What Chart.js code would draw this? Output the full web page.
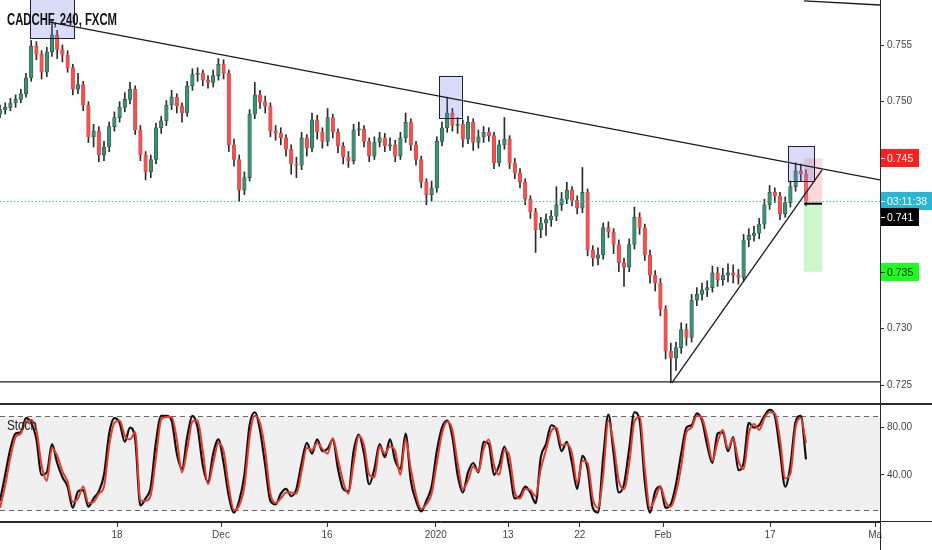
<!DOCTYPE html>
<html><head><meta charset="utf-8">
<script src="https://cdn.jsdelivr.net/npm/chart.js@4.4.1/dist/chart.umd.min.js"></script>
<style>
html,body{margin:0;padding:0;background:#fff;width:932px;height:550px;overflow:hidden;}
#wrap{position:relative;width:932px;height:550px;}
canvas{position:absolute;left:0;}
#main{top:0;}
#stoch{top:404px;}
.txt{position:absolute;white-space:nowrap;transform-origin:0 0;color:#131313;}
#ttl{left:7px;top:12px;font:bold 16px "Liberation Sans",Arial,sans-serif;line-height:16px;}
#stl{left:7px;top:418px;font:14px "Liberation Sans",Arial,sans-serif;line-height:14px;color:#222;}
.ln{position:absolute;background:#2a2a2a;}
</style></head>
<body><div id="wrap">
<canvas id="main" width="932" height="404"></canvas>
<canvas id="stoch" width="932" height="146"></canvas>
<div class="ln" style="left:0;top:403px;width:932px;height:2px;"></div>
<div class="ln" style="left:0;top:521px;width:932px;height:1px;"></div>
<div class="ln" style="left:880px;top:0;width:1px;height:550px;"></div>
<div id="ttl" class="txt">CADCHF, 240, FXCM</div>
<div id="stl" class="txt">Stoch</div>
</div>
<script>
// ---- data (12h candles, index = half trading day) ----
const OPEN0 = 0.7489;
const CLOSE = [
0.7493,0.7495,0.7499,0.7502,0.7507,0.7521,0.7549,0.7542,0.7526,0.7544,
0.7559,0.7546,0.7541,0.7530,0.7511,0.7515,0.7497,0.7469,0.7474,0.7453,
0.7460,0.7478,0.7486,0.7495,0.7502,0.7511,0.7475,0.7453,0.7438,0.7449,
0.7477,0.7483,0.7497,0.7504,0.7496,0.7490,0.7514,0.7524,0.7525,0.7519,
0.7517,0.7523,0.7533,0.7525,0.7462,0.7449,0.7422,0.7433,0.7489,0.7506,
0.7500,0.7496,0.7474,0.7472,0.7468,0.7458,0.7445,0.7444,0.7468,0.7459,
0.7484,0.7473,0.7465,0.7486,0.7473,0.7461,0.7451,0.7448,0.7475,0.7476,
0.7465,0.7452,0.7464,0.7468,0.7461,0.7462,0.7452,0.7468,0.7482,0.7462,
0.7449,0.7429,0.7418,0.7424,0.7465,0.7477,0.7490,0.7479,0.7480,0.7467,
0.7482,0.7464,0.7469,0.7473,0.7470,0.7446,0.7462,0.7467,0.7446,0.7437,
0.7429,0.7414,0.7403,0.7387,0.7393,0.7396,0.7399,0.7409,0.7414,0.7422,
0.7413,0.7406,0.7420,0.7369,0.7362,0.7365,0.7389,0.7385,0.7374,0.7358,
0.7354,0.7374,0.7398,0.7389,0.7365,0.7347,0.7340,0.7317,0.7280,0.7274,
0.7283,0.7299,0.7292,0.7325,0.7330,0.7334,0.7336,0.7349,0.7343,0.7347,
0.7349,0.7347,0.7345,0.7378,0.7382,0.7384,0.7392,0.7409,0.7420,0.7417,
0.7401,0.7411,0.7425,0.7439,0.7436,0.7412];
const HIGH = [
.7497,.7499,.7503,.7506,.7511,.7525,.7554,.7553,.7545,.7548,
.7571,.7563,.7550,.7545,.7533,.7525,.7518,.7500,.7480,.7478,
.7465,.7482,.7491,.7500,.7508,.7517,.7514,.7479,.7456,.7453,
.7481,.7487,.7501,.7510,.7507,.7499,.7518,.7529,.7530,.7528,
.7523,.7528,.7538,.7537,.7528,.7467,.7453,.7438,.7493,.7517,
.7510,.7505,.7499,.7479,.7477,.7471,.7462,.7451,.7473,.7471,
.7490,.7488,.7477,.7494,.7489,.7476,.7464,.7456,.7480,.7482,
.7479,.7468,.7469,.7473,.7472,.7468,.7466,.7473,.7490,.7485,
.7465,.7452,.7432,.7430,.7469,.7482,.7504,.7494,.7486,.7484,
.7487,.7485,.7475,.7478,.7477,.7473,.7466,.7486,.7470,.7450,
.7441,.7432,.7417,.7406,.7398,.7401,.7404,.7425,.7420,.7429,
.7425,.7417,.7442,.7423,.7373,.7371,.7393,.7394,.7388,.7378,
.7362,.7379,.7407,.7402,.7392,.7369,.7351,.7344,.7320,.7287,
.7288,.7305,.7304,.7330,.7336,.7340,.7342,.7355,.7354,.7353,
.7357,.7356,.7352,.7383,.7388,.7390,.7397,.7414,.7426,.7424,
.7420,.7416,.7430,.7446,.7445,.7440];
const LOW = [
.7486,.7489,.7492,.7495,.7499,.7504,.7518,.7537,.7520,.7522,
.7540,.7538,.7535,.7526,.7506,.7507,.7492,.7464,.7460,.7447,
.7448,.7456,.7474,.7482,.7491,.7498,.7471,.7448,.7431,.7433,
.7445,.7472,.7479,.7493,.7490,.7482,.7487,.7510,.7518,.7514,
.7512,.7513,.7519,.7520,.7456,.7443,.7412,.7418,.7430,.7485,
.7494,.7490,.7469,.7466,.7462,.7452,.7436,.7433,.7440,.7452,
.7456,.7467,.7459,.7461,.7468,.7455,.7445,.7442,.7445,.7470,
.7460,.7447,.7449,.7460,.7456,.7457,.7447,.7449,.7464,.7457,
.7444,.7424,.7409,.7412,.7420,.7461,.7473,.7474,.7472,.7460,
.7463,.7457,.7459,.7464,.7465,.7441,.7443,.7458,.7441,.7432,
.7424,.7409,.7397,.7367,.7380,.7382,.7390,.7395,.7404,.7410,
.7408,.7401,.7402,.7364,.7355,.7356,.7361,.7380,.7366,.7350,
.7337,.7350,.7370,.7383,.7360,.7340,.7333,.7311,.7273,.7252,
.7263,.7278,.7285,.7288,.7320,.7325,.7328,.7332,.7337,.7338,
.7341,.7340,.7339,.7342,.7372,.7377,.7379,.7388,.7405,.7411,
.7396,.7398,.7407,.7421,.7430,.7408];
const STOCH_D = [12,31,55,72,75,85,86,78,48,35,
63,56,43,34,17,20,30,16,17,24,
30,65,84,86,73,70,76,18,18,23,
55,87,89,89,70,42,62,85,86,60,
32,50,67,60,30,10,14,30,72,90,
84,60,24,16,20,25,25,24,43,63,
61,67,62,58,71,53,34,24,50,73,
65,40,38,64,58,64,60,40,70,45,
23,11,15,24,50,75,85,78,50,28,
35,47,43,62,70,48,40,61,55,25,
20,28,27,22,45,61,77,80,65,66,
58,33,52,50,20,12,40,86,66,35,
28,50,85,89,45,12,20,30,17,13,
25,47,76,80,90,88,72,52,68,78,
62,71,52,45,75,83,78,88,93,92,
70,37,41,80,88,67];
const STOCH_K = [18,40,62,75,76,88,84,70,40,42,
66,50,38,30,12,26,27,13,20,26,
40,75,88,84,68,80,70,14,20,30,
68,90,90,86,58,45,72,90,80,48,
34,58,70,50,22,8,18,40,82,93,
78,48,18,15,24,28,22,28,50,67,
58,70,60,62,70,45,28,26,60,74,
58,32,45,66,55,70,52,45,75,35,
18,9,18,30,60,80,86,72,40,25,
42,50,42,68,66,40,48,64,45,20,
22,30,25,16,55,66,82,78,60,68,
50,28,56,45,12,8,55,91,58,25,
32,62,93,86,34,8,26,30,12,15,
32,58,80,82,92,86,65,50,75,76,
60,72,44,50,84,80,82,90,95,90,
60,30,48,85,90,53];
const X_TICK_POS = [22.5, 42.5, 62.9, 83.8, 97.7, 111.5, 127.5, 148.1, 168.3];
const X_TICK_LABELS = ['18','Dec','16','2020','13','22','Feb','17','Ma'];
const Y_TICKS = [0.725,0.730,0.735,0.740,0.745,0.750,0.755];
const STOCH_TICKS = [40, 80];
const STOCH_BANDS = [90, 10];
const X_MIN = 0, X_MAX = 169.23;
const Y_MIN = 0.72333, Y_MAX = 0.75897;
// drawings (time index, price)
const TREND_LINES = [[9.6,0.75701,169.23,0.74310],[154.6,0.75890,169.23,0.75853],[129.2,0.72519,158.1,0.74398]];
const H_LINE = 0.72528;
const BOXES = [[5.77,14.23,0.7600,0.75562],[84.4,88.8,0.75229,0.74859],[151.6,156.6,0.74609,0.74303]];
const POSITION = {x0:154.6, x1:158.1, stop:0.745, entry:0.741, target:0.735};
const LAST_PRICE = 0.74124;
const TAGS = [
  {price:0.745, shift:0, text:'0.745', bg:'#ff1f1f', fg:'#ffffff', w:38},
  {price:LAST_PRICE, shift:0, text:'03:11:38', bg:'#27b5d1', fg:'#ffffff', w:52},
  {price:0.741, shift:13, text:'0.741', bg:'#000000', fg:'#ffffff', w:38},
  {price:0.735, shift:0, text:'0.735', bg:'#1cff1c', fg:'#1a1a1a', w:38}
];

const UP_FILL='#3f8f72', UP_LINE='#22594a', DN_FILL='#ef5350', DN_LINE='#e0474a';
const OPEN = CLOSE.map((c,i)=> i===0 ? OPEN0 : CLOSE[i-1]);
const isUp = CLOSE.map((c,i)=> c >= OPEN[i]);
const FONT = {family:'"Liberation Sans", Arial, sans-serif', size:10};

const drawings = {
  id:'drawings',
  afterDatasetsDraw(chart){
    const {ctx, chartArea:a, scales:{x,y}} = chart;
    const X=v=>x.getPixelForValue(v), Y=v=>y.getPixelForValue(v);
    ctx.save();
    ctx.beginPath(); ctx.rect(a.left,a.top,a.right-a.left,a.bottom-a.top); ctx.clip();
    // last price dotted line
    ctx.strokeStyle='#3cc3d8'; ctx.lineWidth=1; ctx.setLineDash([1.5,2]);
    ctx.beginPath(); ctx.moveTo(a.left,Math.round(Y(LAST_PRICE))+0.5); ctx.lineTo(a.right,Math.round(Y(LAST_PRICE))+0.5); ctx.stroke();
    ctx.setLineDash([]);
    // position tool
    ctx.fillStyle='rgba(250,140,150,0.33)';
    ctx.fillRect(X(POSITION.x0), Y(POSITION.stop), X(POSITION.x1)-X(POSITION.x0), Y(POSITION.entry)-Y(POSITION.stop)-1);
    ctx.fillStyle='rgba(110,235,110,0.35)';
    ctx.fillRect(X(POSITION.x0), Y(POSITION.entry)+1, X(POSITION.x1)-X(POSITION.x0), Y(POSITION.target)-Y(POSITION.entry)-1);
    ctx.strokeStyle='#000'; ctx.lineWidth=2;
    ctx.beginPath(); ctx.moveTo(X(POSITION.x0),Y(POSITION.entry)); ctx.lineTo(X(POSITION.x1),Y(POSITION.entry)); ctx.stroke();
    // boxes
    BOXES.forEach(b=>{
      const x0=X(b[0]), x1=X(b[1]), y0=Y(b[2]), y1=Y(b[3]);
      ctx.fillStyle='rgba(110,118,225,0.26)';
      ctx.fillRect(x0,y0,x1-x0,y1-y0);
      ctx.strokeStyle='#1e1e40'; ctx.lineWidth=1;
      ctx.strokeRect(Math.round(x0)+0.5,Math.round(y0)+0.5,Math.round(x1-x0),Math.round(y1-y0));
    });
    // lines
    ctx.strokeStyle='#1a1a1a'; ctx.lineWidth=1.3;
    TREND_LINES.forEach(l=>{ctx.beginPath(); ctx.moveTo(X(l[0]),Y(l[1])); ctx.lineTo(X(l[2]),Y(l[3])); ctx.stroke();});
    ctx.lineWidth=1.2;
    ctx.beginPath(); ctx.moveTo(a.left,Y(H_LINE)); ctx.lineTo(a.right,Y(H_LINE)); ctx.stroke();
    ctx.restore();
  },
  afterDraw(chart){
    const {ctx, scales:{y}} = chart;
    const left = y.left;
    ctx.save();
    TAGS.forEach(t=>{
      const yc = Math.round(y.getPixelForValue(t.price)) + t.shift;
      ctx.fillStyle=t.bg; ctx.fillRect(left+1, yc-9, t.w, 18);
      ctx.strokeStyle=t.fg; ctx.lineWidth=1;
      ctx.beginPath(); ctx.moveTo(left+1,yc+0.5); ctx.lineTo(left+5,yc+0.5); ctx.stroke();
      ctx.fillStyle=t.fg; ctx.font='10.5px "Liberation Sans", Arial, sans-serif';
      ctx.textBaseline='middle'; ctx.textAlign='left';
      ctx.fillText(t.text, left+7, yc+1);
    });
    ctx.restore();
  }
};

new Chart(document.getElementById('main'), {
  type:'bar',
  data:{datasets:[
    {label:'body', data:CLOSE.map((c,i)=>({x:i, y:[OPEN[i], c]})), grouped:false, barThickness:3.6, minBarLength:1,
     backgroundColor:isUp.map(u=>u?UP_FILL:DN_FILL), borderColor:isUp.map(u=>u?UP_LINE:DN_LINE), borderWidth:0.7, borderSkipped:false},
    {label:'wick', data:CLOSE.map((c,i)=>({x:i, y:[LOW[i], HIGH[i]]})), grouped:false, barThickness:1,
     backgroundColor:'#2b2b2b', borderWidth:0}
  ]},
  options:{
    responsive:false, animation:false, events:[], devicePixelRatio:1,
    layout:{padding:0},
    plugins:{legend:{display:false}, tooltip:{enabled:false}},
    scales:{
      x:{type:'linear', min:X_MIN, max:X_MAX, offset:false, display:false},
      y:{position:'right', min:Y_MIN, max:Y_MAX,
         afterBuildTicks:s=>{s.ticks=Y_TICKS.map(v=>({value:v}));},
         afterFit:s=>{s.width=52; s.paddingTop=0; s.paddingBottom=0;},
         ticks:{callback:v=>Number(v).toFixed(3), font:FONT, color:'#444', padding:3},
         grid:{drawOnChartArea:false, drawTicks:true, tickLength:4, color:'#333'},
         border:{display:true, color:'#2a2a2a'}}
    }
  },
  plugins:[drawings]
});

const stochBands = {
  id:'stochBands',
  beforeDatasetsDraw(chart){
    const {ctx, chartArea:a, scales:{y}} = chart;
    const yt=y.getPixelForValue(STOCH_BANDS[0]), yb=y.getPixelForValue(STOCH_BANDS[1]);
    ctx.save();
    ctx.fillStyle='#f0f0f0'; ctx.fillRect(a.left,yt,a.right-a.left,yb-yt);
    ctx.strokeStyle='#6a6a6a'; ctx.lineWidth=1; ctx.setLineDash([5,4]);
    [yt,yb].forEach(v=>{ctx.beginPath(); ctx.moveTo(a.left,Math.round(v)+0.5); ctx.lineTo(a.right,Math.round(v)+0.5); ctx.stroke();});
    ctx.restore();
  }
};

new Chart(document.getElementById('stoch'), {
  type:'line',
  data:{datasets:[
    {label:'%D', data:STOCH_D.map((v,i)=>({x:i,y:v})), borderColor:'#e53a2c', borderWidth:2, pointRadius:0, tension:0.4, cubicInterpolationMode:'monotone', fill:false},
    {label:'%K', data:STOCH_K.map((v,i)=>({x:i,y:v})), borderColor:'#111111', borderWidth:2.2, pointRadius:0, tension:0.3, cubicInterpolationMode:'monotone', fill:false}
  ]},
  options:{
    responsive:false, animation:false, events:[], devicePixelRatio:1,
    layout:{padding:0},
    plugins:{legend:{display:false}, tooltip:{enabled:false}},
    scales:{
      x:{type:'linear', min:X_MIN, max:X_MAX, offset:false,
         afterBuildTicks:s=>{s.ticks=X_TICK_POS.map(v=>({value:v}));},
         afterFit:s=>{s.height=28; s.paddingLeft=0; s.paddingRight=0;},
         ticks:{autoSkip:false, maxRotation:0, font:FONT, color:'#444', padding:2,
                callback:v=>{const k=X_TICK_POS.indexOf(v); return k>=0?X_TICK_LABELS[k]:'';}},
         grid:{drawOnChartArea:false, drawTicks:true, tickLength:5, color:'#333'},
         border:{display:true, color:'#2a2a2a'}},
      y:{position:'right', min:0, max:100,
         afterBuildTicks:s=>{s.ticks=STOCH_TICKS.map(v=>({value:v}));},
         afterFit:s=>{s.width=52; s.paddingTop=0; s.paddingBottom=0;},
         ticks:{callback:v=>Number(v).toFixed(2), font:FONT, color:'#444', padding:3},
         grid:{drawOnChartArea:false, drawTicks:true, tickLength:4, color:'#333'},
         border:{display:true, color:'#2a2a2a'}}
    }
  },
  plugins:[stochBands]
});

// condense title text to match the reference's narrow face
function fit(id, w){const el=document.getElementById(id); const r=el.getBoundingClientRect().width; el.style.transform='scaleX('+(w/r)+')';}
fit('ttl',110); fit('stl',30);
</script>
</body></html>
